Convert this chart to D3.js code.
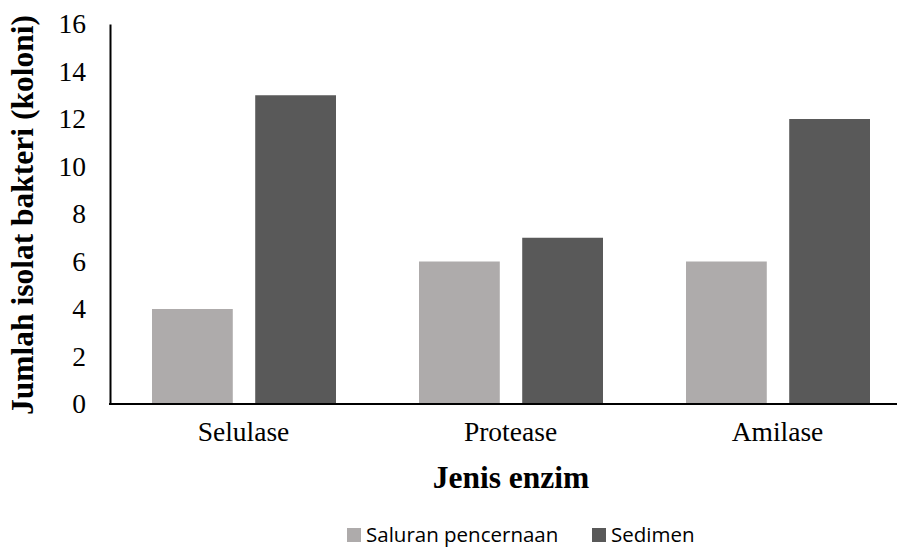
<!DOCTYPE html>
<html>
<head>
<meta charset="utf-8">
<script src="https://cdn.jsdelivr.net/npm/d3@7"></script>
<style>
  body { margin: 0; background: #fff; }
  svg { display: block; }
</style>
</head>
<body>
<div id="chart"></div>
<script>
const categories = ['Selulase', 'Protease', 'Amilase'];
const seriesNames = ['Saluran pencernaan', 'Sedimen'];
const saluranValues = [4, 6, 6];
const sedimenValues = [13, 7, 12];
const yTicks = [0, 2, 4, 6, 8, 10, 12, 14, 16];
const colors = ['#AEABAB', '#595959'];

const width = 897, height = 548;
const serif = 'Liberation Serif, Times New Roman, serif';
const svg = d3.select('#chart').append('svg')
    .attr('width', width)
    .attr('height', height);

const x0 = d3.scaleBand()
    .domain(categories)
    .range([110, 911])
    .paddingInner(0)
    .paddingOuter(0);
const x1 = d3.scaleBand()
    .domain(seriesNames)
    .range([42, 42 + 184])
    .paddingInner(20 / 92)
    .paddingOuter(0);
const y = d3.scaleLinear()
    .domain([0, 16])
    .range([404, 24]);

const rows = categories.map((c, i) => ({
    cat: c,
    vals: [
        { s: seriesNames[0], v: saluranValues[i] },
        { s: seriesNames[1], v: sedimenValues[i] }
    ]
}));
const color = d3.scaleOrdinal().domain(seriesNames).range(colors);

const groups = svg.selectAll('.grp')
    .data(rows)
    .enter()
    .append('g')
    .attr('transform', d => `translate(${x0(d.cat)},0)`);
groups.selectAll('rect')
    .data(d => d.vals)
    .enter()
    .append('rect')
    .attr('x', d => x1(d.s))
    .attr('y', d => y(d.v))
    .attr('width', x1.bandwidth())
    .attr('height', d => y(0) - y(d.v))
    .attr('fill', d => color(d.s));

// y axis
const yAxis = svg.append('g')
    .attr('transform', 'translate(110,0)')
    .call(d3.axisLeft(y).tickValues(yTicks).tickSize(0).tickPadding(24));
yAxis.select('.domain').attr('stroke', '#000').attr('stroke-width', 2);
yAxis.selectAll('text')
    .attr('font-family', serif)
    .attr('font-size', 27.5)
    .attr('fill', '#000');

// x axis
const xAxis = svg.append('g')
    .attr('transform', 'translate(0,404)')
    .call(d3.axisBottom(x0).tickSize(0).tickPadding(17));
xAxis.select('.domain').remove();
xAxis.selectAll('text')
    .attr('font-family', serif)
    .attr('font-size', 27.5)
    .attr('fill', '#000');
svg.append('line')
    .attr('x1', 109).attr('x2', width)
    .attr('y1', 404).attr('y2', 404)
    .attr('stroke', '#000')
    .attr('stroke-width', 2);

// axis titles
svg.append('text')
    .attr('x', 511)
    .attr('y', 488)
    .attr('text-anchor', 'middle')
    .attr('font-family', serif)
    .attr('font-weight', 'bold')
    .attr('font-size', 31.5)
    .text('Jenis enzim');
svg.append('text')
    .attr('transform', 'translate(33,215) rotate(-90)')
    .attr('text-anchor', 'middle')
    .attr('font-family', serif)
    .attr('font-weight', 'bold')
    .attr('font-size', 31.5)
    .text('Jumlah isolat bakteri (koloni)');

// legend
const legendX = [347, 592];
const legend = svg.selectAll('.legend-item')
    .data(seriesNames)
    .enter()
    .append('g')
    .attr('transform', (d, i) => `translate(${legendX[i]},528)`);
legend.append('rect')
    .attr('width', 14)
    .attr('height', 14)
    .attr('fill', d => color(d));
legend.append('text')
    .attr('x', 19)
    .attr('y', 14)
    .attr('font-family', 'Open Sans, Noto Sans, sans-serif')
    .attr('font-size', 20.5)
    .attr('fill', '#000')
    .text(d => d);
</script>
</body>
</html>
